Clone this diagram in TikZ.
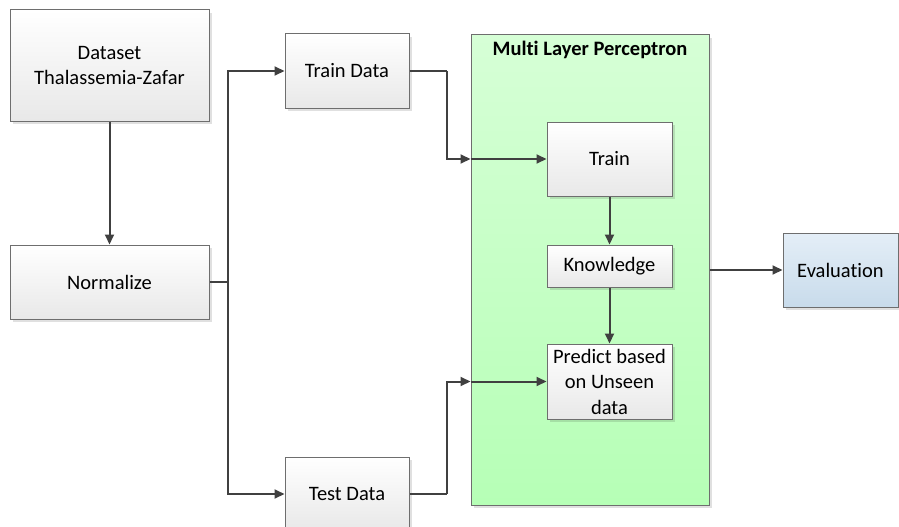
\documentclass[tikz,border=0pt]{standalone}
\usepackage{fontspec}
\setmainfont{Carlito}[Ligatures=NoCommon]
\usetikzlibrary{arrows.meta,shadows}
\definecolor{boxline}{HTML}{6E6E6E}
\definecolor{arrline}{HTML}{404040}
\definecolor{gtop}{HTML}{D6FFD6}
\definecolor{gbot}{HTML}{B6FFB6}
\definecolor{btop}{HTML}{E4EEF7}
\definecolor{bbot}{HTML}{C8DBEB}
\tikzset{
  boxbase/.style={draw=boxline, line width=1pt, align=center, inner sep=0pt,
    font=\fontsize{20.5}{25.5}\selectfont,
    drop shadow={shadow xshift=3pt, shadow yshift=-3pt, fill=black, opacity=0.12}},
  graybox/.style={boxbase, top color=white, bottom color=black!9},
  bluebox/.style={boxbase, top color=btop, bottom color=bbot},
  arr/.style={draw=arrline, line width=2pt, -{Triangle[length=10pt,width=9pt]}},
  ln/.style={draw=arrline, line width=2pt}
}
\begin{document}
\begin{tikzpicture}[x=1pt,y=-1pt]
\useasboundingbox (0,0) rectangle (899,527);
% MLP container
\node[draw=boxline, line width=1pt, top color=gtop, bottom color=gbot, inner sep=0pt,
  minimum width=238pt, minimum height=470pt,
  drop shadow={shadow xshift=3pt, shadow yshift=-3pt, fill=black, opacity=0.12}]
  (mlp) at (590,270) {};
\node[font=\fontsize{20.5}{25.5}\selectfont\bfseries, anchor=center] (mlptitle) at (590,50) {Multi Layer Perceptron};

\node[graybox, minimum width=199pt, minimum height=111pt] (ds) at (109.5,65.5) {Dataset\\Thalassemia-Zafar};
\node[graybox, minimum width=199pt, minimum height=74pt] (norm) at (109.5,282) {Normalize};
\node[graybox, minimum width=124pt, minimum height=74pt] (trd) at (347,71) {Train Data};
\node[graybox, minimum width=124pt, minimum height=74pt] (ted) at (347,494) {Test Data};
\node[graybox, minimum width=125pt, minimum height=74pt] (tr) at (609.5,159) {Train};
\node[graybox, minimum width=125pt, minimum height=42pt] (kn) at (609.5,266) {Knowledge};
\node[graybox, minimum width=125pt, minimum height=75pt] (pr) at (609.5,381.5) {Predict based\\on Unseen\\data};
\node[bluebox, minimum width=115pt, minimum height=74pt] (ev) at (840.5,270) {Evaluation};

\coordinate (j) at (228,282);
\coordinate (tj) at (447,71);
\coordinate (sj) at (447,494);
\coordinate (in1) at (mlp.west |- tr.west);
\coordinate (in2) at (mlp.west |- pr.west);
\coordinate (out) at (mlp.east |- ev.west);

\draw[arr] (ds.south) -- (norm.north);
\draw[ln] (norm.east) -- (j);
\draw[arr] (j) |- (trd.west);
\draw[arr] (j) |- (ted.west);
\draw[ln] (trd.east) -- (tj);
\draw[arr] (tj) |- (in1);
\draw[arr] (in1) -- (tr.west);
\draw[ln] (ted.east) -- (sj);
\draw[arr] (sj) |- (in2);
\draw[arr] (in2) -- (pr.west);
\draw[arr] (tr.south) -- (kn.north);
\draw[arr] (kn.south) -- (pr.north);
\draw[arr] (out) -- (ev.west);
\end{tikzpicture}
\end{document}
